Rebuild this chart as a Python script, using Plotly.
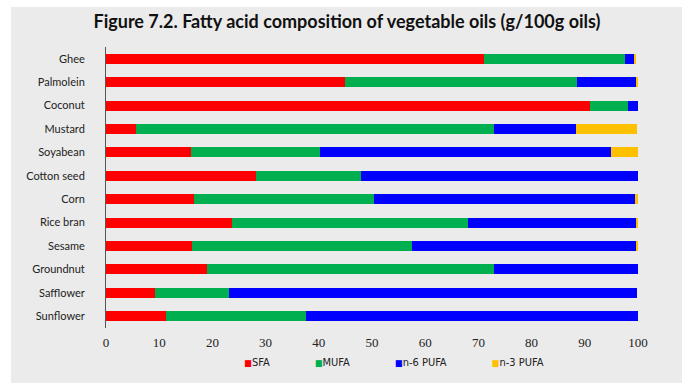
import plotly.graph_objects as go

oils = ["Ghee", "Palmolein", "Coconut", "Mustard", "Soyabean", "Cotton seed",
        "Corn", "Rice bran", "Sesame", "Groundnut", "Safflower", "Sunflower"]
sfa = [71.0, 44.9, 91.0, 5.6, 16.0, 28.2, 16.5, 23.7, 16.2, 18.9, 9.2, 11.3]
mufa = [26.5, 43.7, 7.2, 67.3, 24.2, 19.7, 33.8, 44.3, 41.4, 54.0, 14.0, 26.2]
n6_pufa = [1.9, 11.2, 1.8, 15.4, 54.8, 52.1, 49.1, 31.6, 42.1, 27.1, 76.6, 62.5]
n3_pufa = [0.3, 0.2, 0.0, 11.6, 5.0, 0.3, 0.6, 0.4, 0.3, 0.0, 0.0, 0.0]
x_ticks = [0, 10, 20, 30, 40, 50, 60, 70, 80, 90, 100]

series = [("SFA", sfa, "#FF0000"), ("MUFA", mufa, "#00B050"),
          ("n-6 PUFA", n6_pufa, "#0000FF"), ("n-3 PUFA", n3_pufa, "#FFC000")]

fig = go.Figure()
for name, vals, col in series:
    fig.add_trace(go.Bar(y=oils, x=vals, orientation="h", name=name,
                         marker=dict(color=col, line=dict(width=0)),
                         showlegend=False))
for name, vals, col in series:
    label = '<span style="color:%s;font-size:9px">■</span>%s' % (col, name)
    fig.add_trace(go.Scatter(x=[None], y=[None], mode="lines", name=label,
                             line=dict(color=col, width=0)))

W, H = 694, 392
L, R, T, B = 106, 56, 47, 64
pw, ph = W - L - R, H - T - B


def px_x(p):
    return (p - L) / pw


def px_y(p):
    return (H - B - p) / ph


panel = "#EBEBEB"
shapes = [dict(type="rect", xref="paper", yref="paper", layer="below",
               x0=px_x(11), x1=px_x(682), y0=px_y(383), y1=px_y(7),
               fillcolor=panel, line=dict(width=0))]

fig.update_layout(
    width=W, height=H,
    barmode="stack", bargap=0.57,
    paper_bgcolor="#FFFFFF", plot_bgcolor="rgba(0,0,0,0)",
    margin=dict(l=L, r=R, t=T, b=B),
    title=dict(text="<b>Figure 7.2. Fatty acid composition of vegetable oils (g/100g oils)</b>",
               x=0.5, xanchor="center", y=0.944, yanchor="middle",
               font=dict(family="Lato", size=18, color="#111111")),
    xaxis=dict(range=[0, 100], tickvals=x_ticks, showgrid=False, zeroline=False,
               showline=False, ticks="outside", ticklen=2, tickcolor="rgba(0,0,0,0)",
               tickfont=dict(family="Liberation Serif", size=13, color="#222222"),
               fixedrange=True, automargin=False),
    yaxis=dict(categoryorder="array", categoryarray=oils, autorange="reversed",
               showgrid=False, zeroline=False, showline=True, linecolor="#555555",
               linewidth=1, ticks="outside", ticklen=18, tickcolor="rgba(0,0,0,0)",
               tickfont=dict(family="Lato", size=11, color="#222222"),
               automargin=False),
    legend=dict(orientation="h", x=0.509, xanchor="center", y=-0.12, yanchor="middle",
                traceorder="normal", itemwidth=30,
                font=dict(family="DejaVu Sans Condensed", size=11, color="#222222"),
                bgcolor="rgba(0,0,0,0)", itemclick=False),
    shapes=shapes,
)

fig.write_html("out.html", config={"displayModeBar": False},
               post_script="document.body.style.margin='0';document.body.style.overflow='hidden';")
